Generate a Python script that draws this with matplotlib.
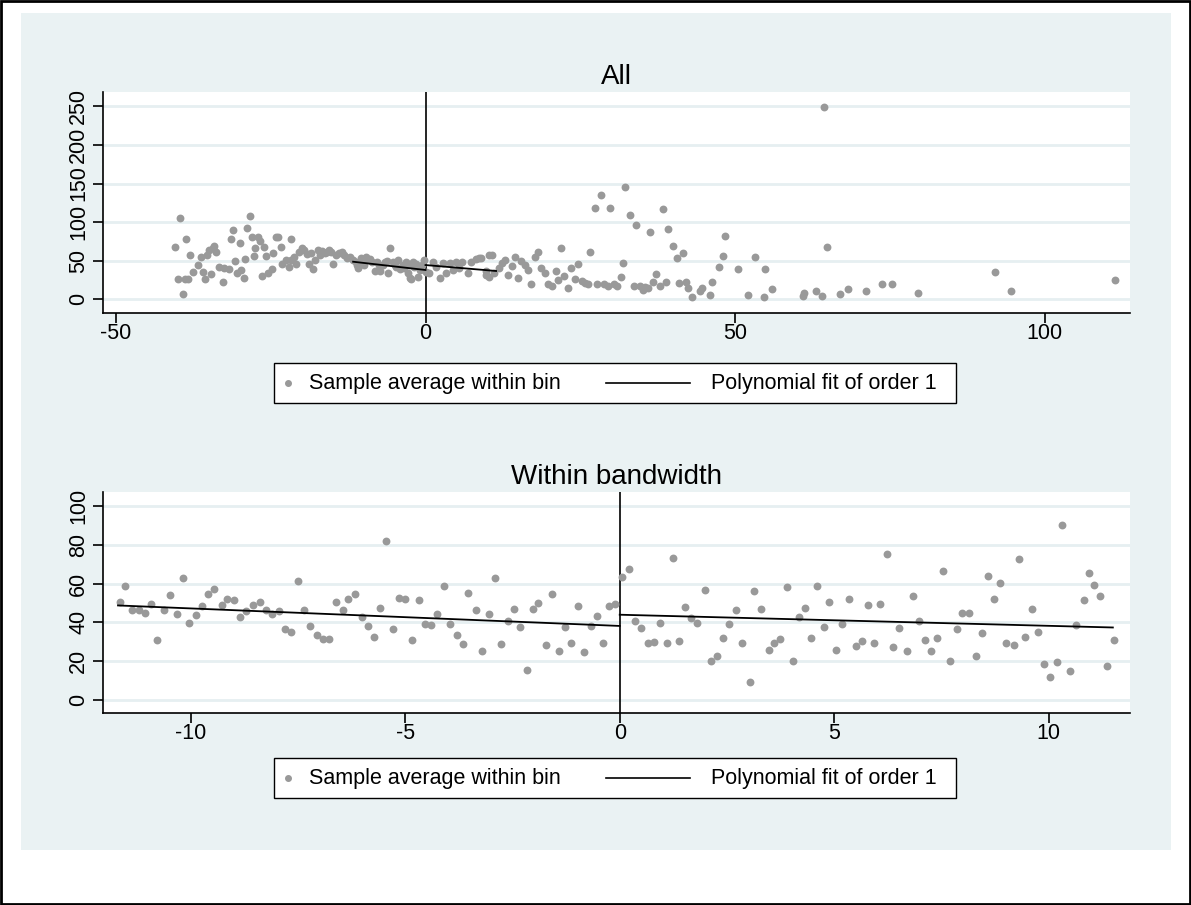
import matplotlib
matplotlib.use("Agg")
import matplotlib.pyplot as plt
from matplotlib.patches import Rectangle
from matplotlib.lines import Line2D

plt.rcParams['font.family'] = ['Liberation Sans', 'DejaVu Sans']
plt.rcParams['axes.unicode_minus'] = False

# top panel: all bins
all_x = [-40.4, -39.7, -40.0, -39.2, -38.7, -38.8, -38.3, -38.0, -37.5, -36.8, -36.3, -35.9, -35.7, -35.3,
         -35.0, -34.7, -34.4, -34.1, -33.8, -33.4, -32.7, -32.5, -31.8, -31.4, -31.1, -30.7, -30.5, -30.0,
         -29.8, -29.4, -29.1, -28.8, -28.4, -28.1, -27.7, -27.5, -27.1, -26.7, -26.4, -26.1, -25.8, -25.5,
         -24.8, -24.7, -24.2, -23.8, -23.4, -23.2, -22.5, -22.1, -21.8, -21.7, -21.3, -20.9, -20.5, -20.0,
         -19.6, -19.2, -18.9, -18.5, -18.1, -17.8, -17.4, -17.1, -16.7, -16.3, -15.9, -15.6, -15.2, -14.9,
         -14.4, -14.0, -13.5, -13.1, -12.7, -12.2, -11.7, -11.2, -11.0, -10.9, -10.5, -10.1, -9.9, -9.6,
         -9.2, -8.9, -8.7, -8.2, -7.8, -7.5, -7.3, -6.9, -6.5, -6.2, -6.0, -5.7, -5.3, -5.0, -4.8, -4.5,
         -4.1, -3.7, -3.4, -3.2, -2.9, -2.7, -2.5, -2.3, -2.1, -1.8, -1.5, -1.2, -0.9, -0.6, -0.3,
         0.1, 0.6, 1.2, 1.7, 2.3, 2.8, 3.3, 3.9, 4.4, 5.0, 5.4, 5.9, 6.8, 7.4, 8.2, 8.7, 9.0, 9.8, 9.8,
         10.2, 10.3, 10.7, 11.1, 11.9, 12.3, 12.8, 13.4, 14.0, 14.5, 15.0, 15.5, 16.0, 16.6, 17.1, 17.7,
         18.1, 18.7, 19.3, 19.8, 20.4, 21.0, 21.4, 21.9, 22.3, 23.0, 23.5, 24.1, 24.6, 25.2, 25.8, 26.3,
         26.6, 27.3, 27.7, 28.4, 28.9, 29.5, 29.8, 30.4, 31.0, 31.5, 31.9, 32.3, 33.1, 33.6, 34.0, 34.6,
         35.1, 35.4, 35.9, 36.2, 36.7, 37.3, 37.8, 38.4, 38.9, 39.2, 39.9, 40.6, 41.0, 41.6, 42.0, 42.4,
         43.1, 44.3, 44.7, 45.9, 46.3, 47.4, 48.0, 48.3, 50.4, 52.1, 53.2, 54.6, 54.9, 55.9, 60.9, 61.2,
         63.1, 64.0, 64.3, 64.9, 67.0, 68.2, 71.2, 73.7, 75.3, 79.5, 92.0, 94.6, 111.4]
all_y = [68.1, 105.3, 25.9, 7.3, 78.5, 25.9, 25.9, 57.4, 35.8, 44.4, 55.2, 35.8, 26.3, 57.4,
         63.9, 32.8, 66.1, 69.4, 61.7, 42.2, 22.8, 40.2, 38.9, 77.7, 89.8, 49.6, 33.7, 72.5,
         38.0, 27.2, 52.2, 92.7, 107.9, 81.1, 56.1, 66.8, 81.1, 75.1, 30.2, 68.1, 56.1, 34.5,
         38.9, 60.4, 80.3, 81.1, 68.1, 45.7, 50.9, 42.2, 78.5, 50.9, 55.2, 45.3, 61.7, 66.1,
         63.9, 58.7, 45.3, 59.6, 38.9, 50.9, 63.9, 57.4, 63.0, 59.6, 61.7, 63.9, 61.7, 45.3,
         57.4, 59.6, 61.7, 57.4, 53.1, 55.2, 50.9, 48.7, 45.0, 40.2, 53.1, 48.7, 44.0, 55.2,
         50.9, 52.0, 48.7, 37.0, 48.7, 45.0, 37.0, 44.4, 48.7, 50.0, 34.5, 66.1, 48.7, 45.0, 42.2, 50.9,
         38.9, 44.4, 40.0, 48.7, 34.5, 45.0, 27.2, 25.9, 48.7, 42.2, 46.0, 28.5, 37.6, 44.0, 50.9,
         35.8, 34.5, 48.7, 42.0, 28.0, 46.6, 34.5, 46.6, 38.0, 48.7, 40.0, 48.7, 34.5, 48.7, 51.8, 53.1, 53.1, 31.5, 37.0,
         57.4, 28.5, 57.4, 33.7, 40.2, 46.6, 50.9, 31.5, 43.1, 55.2, 27.2, 49.6, 44.4, 38.0, 19.4, 55.2,
         60.9, 40.2, 34.5, 19.4, 17.6, 36.7, 25.0, 66.1, 30.6, 15.0, 40.9, 25.9, 45.3, 23.7, 20.7, 19.4,
         61.7, 117.9, 19.8, 135.1, 19.8, 17.6, 118.7, 19.8, 17.6, 29.3, 47.4, 145.9, 109.6, 17.2, 95.9, 17.2,
         12.0, 16.3, 14.2, 86.8, 22.8, 32.4, 17.6, 116.6, 22.8, 91.5, 69.4, 53.5, 20.7, 60.4, 22.8, 14.2,
         3.4, 11.1, 14.2, 5.6, 22.0, 42.2, 56.1, 81.6, 39.6, 5.6, 54.4, 2.6, 39.2, 13.0, 4.3, 7.8,
         11.1, 4.3, 249.5, 68.1, 6.9, 13.3, 11.1, 19.4, 20.2, 8.5, 35.4, 11.1, 25.4]

# top panel linear fits (endpoints)
all_fit_left_x = [-11.7, 0.0]
all_fit_left_y = [48.7, 38.0]
all_fit_right_x = [0.0, 11.4]
all_fit_right_y = [44.4, 36.7]

# bottom panel: bins within bandwidth
bw_x = [-11.66, -11.53, -11.37, -11.22, -11.08, -10.94, -10.79, -10.63, -10.49, -10.33, -10.18, -10.04,
        -9.89, -9.75, -9.60, -9.45, -9.28, -9.16, -8.99, -8.85, -8.71, -8.56, -8.40, -8.26, -8.11, -7.95,
        -7.81, -7.67, -7.50, -7.37, -7.23, -7.07, -6.92, -6.78, -6.62, -6.46, -6.33, -6.18, -6.02, -5.88,
        -5.73, -5.59, -5.44, -5.29, -5.14, -5.00, -4.84, -4.69, -4.55, -4.40, -4.25, -4.10, -3.95, -3.79,
        -3.65, -3.53, -3.36, -3.21, -3.05, -2.92, -2.78, -2.60, -2.47, -2.32, -2.17, -2.02, -1.90, -1.71,
        -1.57, -1.42, -1.27, -1.13, -0.98, -0.83, -0.68, -0.54, -0.40, -0.24, -0.12,
        0.06, 0.22, 0.35, 0.50, 0.65, 0.79, 0.93, 1.10, 1.25, 1.39, 1.53, 1.67, 1.81, 1.98, 2.12, 2.27,
        2.41, 2.55, 2.71, 2.85, 3.03, 3.13, 3.30, 3.47, 3.59, 3.73, 3.90, 4.03, 4.18, 4.32, 4.46, 4.60,
        4.76, 4.89, 5.05, 5.19, 5.35, 5.50, 5.64, 5.78, 5.94, 6.07, 6.23, 6.38, 6.52, 6.69, 6.83, 6.97,
        7.11, 7.25, 7.41, 7.55, 7.71, 7.86, 7.99, 8.15, 8.31, 8.44, 8.60, 8.73, 8.87, 9.00, 9.19, 9.31,
        9.45, 9.62, 9.76, 9.89, 10.04, 10.19, 10.32, 10.51, 10.63, 10.82, 10.94, 11.06, 11.20, 11.37, 11.52]
bw_y = [50.3, 58.7, 46.4, 46.3, 44.9, 49.5, 30.6, 46.1, 54.0, 44.4, 62.7, 39.7,
        44.0, 48.5, 54.4, 57.1, 49.0, 51.8, 51.3, 42.8, 45.8, 49.0, 50.3, 46.3, 44.2, 45.6,
        36.4, 35.2, 61.5, 46.1, 38.0, 33.2, 31.4, 31.4, 50.6, 46.1, 52.0, 54.4, 42.6, 38.0,
        32.4, 47.2, 81.9, 36.3, 52.3, 52.0, 30.9, 51.6, 39.0, 38.7, 44.2, 58.9, 39.2, 33.3,
        28.5, 54.9, 46.4, 25.2, 44.4, 62.7, 28.8, 40.9, 46.9, 37.5, 15.3, 46.8, 50.1, 28.0,
        54.4, 25.2, 37.5, 29.2, 48.3, 24.7, 38.1, 43.3, 29.2, 48.5, 49.2,
        63.5, 67.5, 40.6, 36.9, 29.2, 29.8, 39.4, 29.5, 73.2, 30.2, 48.0, 42.1, 39.4, 56.6, 20.0, 22.3,
        31.8, 39.2, 46.3, 29.5, 9.0, 56.0, 46.9, 25.9, 29.2, 31.4, 58.2, 20.0, 42.8, 47.3, 31.8, 58.9,
        37.6, 50.6, 25.5, 38.9, 52.0, 27.8, 30.2, 48.7, 29.5, 49.4, 75.4, 27.1, 36.8, 25.2, 53.5, 40.4,
        30.9, 24.9, 31.8, 66.3, 19.8, 36.4, 44.7, 44.7, 22.4, 34.5, 63.9, 51.8, 60.1, 29.5, 28.3, 72.8,
        32.4, 46.9, 35.2, 18.4, 11.7, 19.5, 90.3, 15.0, 38.7, 51.3, 65.3, 59.1, 53.7, 17.3, 30.6]

# bottom panel linear fits (endpoints)
fit_left_x = [-11.7, 0.0]
fit_left_y = [48.7, 38.1]
fit_right_x = [0.0, 11.5]
fit_right_y = [43.9, 37.3]

legend_labels = ['Sample average within bin', 'Polynomial fit of order 1']

W, H = 1191, 905
fig = plt.figure(figsize=(W / 100, H / 100), dpi=100)
fig.patch.set_facecolor('white')


def fx(px):
    return px / W


def fy(py):
    return 1 - py / H


# light panel behind the graphs, and the outer border
fig.add_artist(Rectangle((fx(21), fy(850)), fx(1150), 837 / H, transform=fig.transFigure,
                         facecolor='#eaf2f3', edgecolor='none', zorder=-10))
fig.add_artist(Rectangle((0.001, 0.001), 0.998, 0.998, transform=fig.transFigure,
                         facecolor='none', edgecolor='black', linewidth=2, zorder=10))

dot_col = '#999999'
grid_col = '#e6eff1'
fsize = 15.5


def setup(ax, yticks, ylim, xticks, xlim, title):
    ax.set_facecolor('white')
    ax.set_ylim(ylim)
    ax.set_xlim(xlim)
    ax.set_yticks(yticks)
    ax.set_xticks(xticks)
    ax.set_yticklabels([str(t) for t in yticks], rotation=90, va='center')
    ax.tick_params(axis='both', length=7, width=1.2, labelsize=fsize, colors='black')
    ax.tick_params(axis='x', pad=0.5)
    ax.tick_params(axis='y', pad=3)
    for s in ['top', 'right']:
        ax.spines[s].set_visible(False)
    for s in ['left', 'bottom']:
        ax.spines[s].set_linewidth(1.2)
    ax.grid(axis='y', color=grid_col, linewidth=2)
    ax.set_axisbelow(True)
    ax.axvline(0, color='black', linewidth=1.2, zorder=1)
    ax.set_title(title, fontsize=20, pad=6)


def legend_box(top):
    # hand built legend box
    fig.add_artist(Rectangle((fx(274), fy(top + 40)), fx(682), 40 / H, transform=fig.transFigure,
                             facecolor='white', edgecolor='black', linewidth=1.0, zorder=5))
    yc = top + 20
    fig.add_artist(Line2D([fx(288)], [fy(yc)], marker='o', markersize=4, color=dot_col,
                          linestyle='none', transform=fig.transFigure, zorder=6))
    fig.text(fx(309), fy(yc), legend_labels[0], fontsize=fsize, va='center', ha='left', zorder=6)
    fig.add_artist(Line2D([fx(606), fx(690)], [fy(yc), fy(yc)], color='black', linewidth=1.2,
                          transform=fig.transFigure, zorder=6))
    fig.text(fx(711), fy(yc), legend_labels[1], fontsize=fsize, va='center', ha='left', zorder=6)


ax1 = fig.add_axes([fx(103), fy(313), fx(1027), 221 / H])
ax1.scatter(all_x, all_y, s=32, color=dot_col, linewidths=0, zorder=2)
ax1.plot(all_fit_left_x, all_fit_left_y, color='black', linewidth=1.3, zorder=3)
ax1.plot(all_fit_right_x, all_fit_right_y, color='black', linewidth=1.3, zorder=3)
setup(ax1, [0, 50, 100, 150, 200, 250], (-17.7, 268.5), [-50, 0, 50, 100], (-52.1, 113.8), 'All')

ax2 = fig.add_axes([fx(103), fy(713), fx(1027), 221 / H])
ax2.scatter(bw_x, bw_y, s=32, color=dot_col, linewidths=0, zorder=2)
ax2.plot(fit_left_x, fit_left_y, color='black', linewidth=1.3, zorder=3)
ax2.plot(fit_right_x, fit_right_y, color='black', linewidth=1.3, zorder=3)
setup(ax2, [0, 20, 40, 60, 80, 100], (-6.95, 107.4), [-10, -5, 0, 5, 10], (-12.05, 11.9),
      'Within bandwidth')

legend_box(363)
legend_box(758)

fig.savefig('out.png', dpi=100)
